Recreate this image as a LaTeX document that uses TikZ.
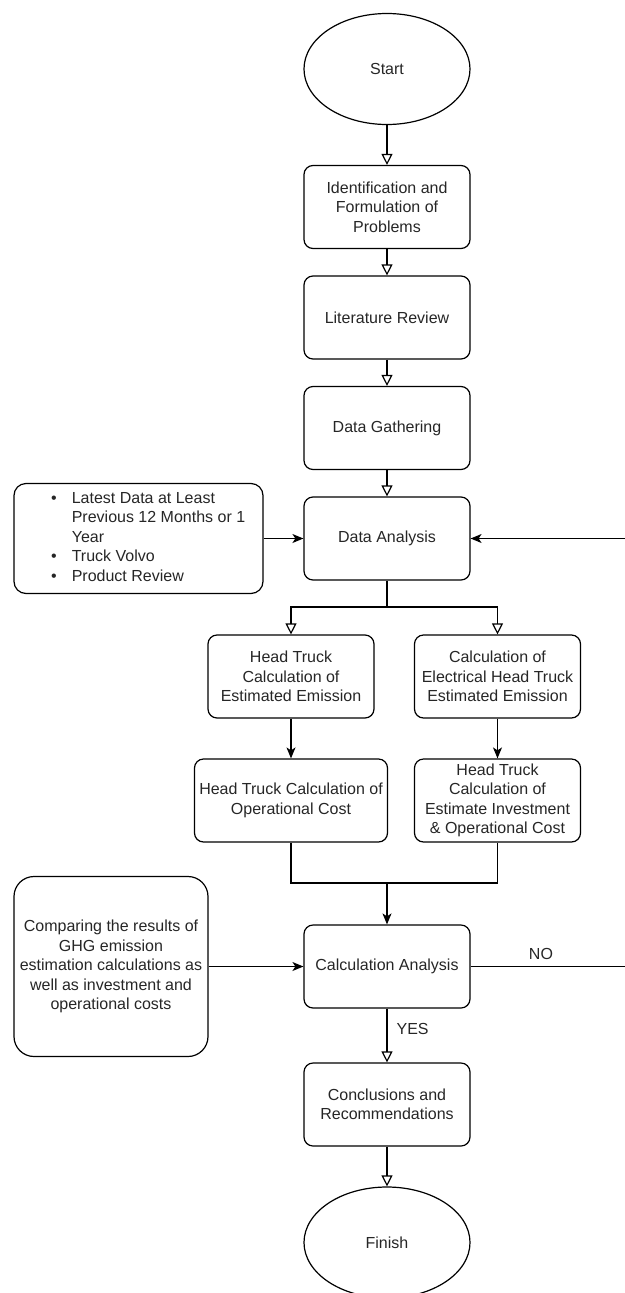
\documentclass[tikz,border=0pt]{standalone}
\usepackage{fontspec}
\setmainfont{Liberation Sans}
\usetikzlibrary{shapes.geometric,arrows.meta}

\begin{document}
\begin{tikzpicture}[x=1pt,y=-1pt,
    every node/.style={font=\fontsize{16}{19.5}\selectfont, text=black!85},
    procbox/.style={draw=black, rounded corners=9pt, minimum width=166pt, minimum height=83pt, align=center, inner sep=0pt, line width=1.2pt},
    termnode/.style={draw=black, ellipse, minimum width=166pt, minimum height=111pt, inner sep=0pt, line width=1.2pt},
    openarrow/.style={-{Triangle[open,length=11pt,width=11pt]}, line width=1.2pt},
    fillarrow/.style={-{Stealth[length=11pt,width=9pt,inset=3pt]}, line width=1.2pt},
    plainline/.style={line width=1.2pt}]
    \useasboundingbox (0,0) rectangle (624,1293);
    % Main column
    \node[termnode] (start) at (387,69) {Start};
    \node[procbox] (ident) at (387,207) {Identification and\\Formulation of\\Problems};
    \node[procbox] (lit) at (387,317.5) {Literature Review};
    \node[procbox] (gath) at (387,428) {Data Gathering};
    \node[procbox] (anal) at (387,538.5) {Data Analysis};
    % Input box on the left
    \node[procbox, minimum width=249pt, minimum height=110pt, rounded corners=12pt] (input) at (138.5,538.5) {};
    \node[anchor=west, inner sep=0pt] (inputlist) at (51,538.5) {%
      \begin{tabular}{@{}l@{\hspace{15pt}}l@{}}
        \textbullet & Latest Data at Least\\
                    & Previous 12 Months or 1\\
                    & Year\\
        \textbullet & Truck Volvo\\
        \textbullet & Product Review
      \end{tabular}};
    % Two branches
    \node[procbox] (emisA) at (291,676.5) {Head Truck\\Calculation of\\Estimated Emission};
    \node[procbox] (emisB) at (497.5,676.5) {Calculation of\\Electrical Head Truck\\Estimated Emission};
    \node[procbox, minimum width=193pt] (costA) at (291,800.5) {Head Truck Calculation of\\Operational Cost};
    \node[procbox] (costB) at (497.5,800.5) {Head Truck\\Calculation of\\Estimate Investment\\\& Operational Cost};
    % Analysis and end
    \node[procbox] (calc) at (387,966.5) {Calculation Analysis};
    \node[procbox, minimum width=194pt, minimum height=180pt, rounded corners=20pt] (compare) at (111,966.5) {Comparing the results of\\GHG emission\\estimation calculations as\\well as investment and\\operational costs};
    \node[procbox] (concl) at (387,1104.5) {Conclusions and\\Recommendations};
    \node[termnode] (finish) at (387,1242.5) {Finish};
    % Connectors
    \draw[openarrow] (start) -- (ident);
    \draw[openarrow] (ident) -- (lit);
    \draw[openarrow] (lit) -- (gath);
    \draw[openarrow] (gath) -- (anal);
    \draw[fillarrow] (input) -- (anal);
    \coordinate (split) at (387,607);
    \draw[openarrow] (anal) -- (split) -| (emisA);
    \draw[openarrow] (split) -| (emisB);
    \draw[fillarrow] (emisA) -- (costA);
    \draw[fillarrow] (emisB) -- (costB);
    \coordinate (merge) at (387,883);
    \draw[plainline] (costA) |- (merge) -| (costB);
    \draw[fillarrow] (merge) -- (calc);
    \draw[fillarrow] (compare) -- (calc);
    \draw[openarrow] (calc) -- node[right, pos=0.38, inner sep=9pt] {YES} (concl);
    \draw[openarrow] (concl) -- (finish);
    % Loop back along the right edge
    \coordinate (loopB) at (627,966.5);
    \coordinate (loopT) at (627,538.5);
    \draw[fillarrow] (calc) -- node[above, pos=0.45, inner sep=6pt] {NO} (loopB) -- (loopT) -- (anal);
\end{tikzpicture}
\end{document}
